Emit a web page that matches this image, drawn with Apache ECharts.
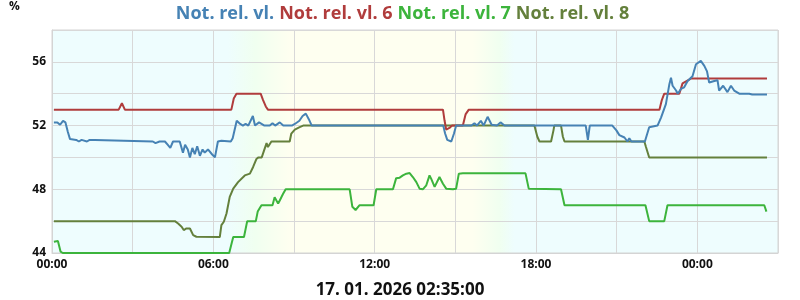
<!DOCTYPE html>
<html>
<head>
<meta charset="utf-8">
<script src="https://cdn.jsdelivr.net/npm/echarts@6/dist/echarts.min.js"></script>
<style>html,body{margin:0;padding:0;background:#fff}#c{width:800px;height:300px}</style>
</head>
<body>
<div id="c"></div>
<script>
// Series names (legend)
const seriesNames = ['Not. rel. vl.', 'Not. rel. vl. 6', 'Not. rel. vl. 7', 'Not. rel. vl. 8'];
const seriesColors = ['#4682b4', '#b03c3c', '#3cb43c', '#64803c'];
// x = hours since 16.01.2026 00:00, y = %
const blueData = [
  [0.07,52.2],[0.2,52.2],[0.3,52.05],[0.41,52.3],[0.5,52.2],[0.59,51.6],[0.67,51.15],[0.9,51.1],[1.0,51.0],
  [1.1,51.1],[1.3,51.0],[1.4,51.1],[1.6,51.1],[1.67,51.0],[3.75,51.0],[3.85,50.9],[4.0,51.0],[4.2,51.0],
  [4.3,50.8],[4.4,50.6],[4.5,51.0],[4.75,51.0],[4.87,50.3],[4.95,50.8],[5.05,50.5],[5.13,50.0],[5.22,50.6],
  [5.31,50.2],[5.4,50.7],[5.5,50.1],[5.6,50.5],[5.68,50.3],[5.8,50.5],[5.95,50.2],[6.06,50.0],[6.17,51.0],
  [6.3,51.05],[6.65,51.0],[6.72,51.2],[6.87,52.3],[7.0,52.1],[7.1,52.0],[7.2,52.1],[7.3,52.0],[7.47,52.6],
  [7.55,52.0],[7.7,52.2],[7.9,52.0],[8.1,52.0],[8.2,52.15],[8.3,52.0],[8.47,52.2],[8.6,52.0],[8.92,52.0],
  [9.03,52.1],[9.2,52.3],[9.32,52.6],[9.44,52.75],[9.55,52.4],[9.66,52.0],[14.55,52.0],[14.62,51.5],
  [14.7,51.1],[14.85,51.0],[14.95,51.5],[15.03,52.0],[15.6,52.0],[15.71,52.15],[15.8,52.0],[15.95,52.3],
  [16.05,52.0],[16.2,52.55],[16.35,52.05],[16.55,52.0],[16.68,52.2],[16.83,52.0],[19.85,52.0],[19.93,51.1],
  [20.0,52.0],[20.84,52.0],[20.99,51.7],[21.1,51.4],[21.29,51.25],[21.4,51.0],[21.47,51.2],[21.55,51.0],
  [22.05,51.0],[22.21,51.9],[22.52,52.0],[22.65,52.5],[22.83,53.35],[22.96,54.6],[23.02,55.0],[23.08,54.5],
  [23.21,54.2],[23.27,54.0],[23.39,54.3],[23.51,54.4],[23.64,54.8],[23.82,55.1],[23.95,55.85],[24.13,56.06],
  [24.26,55.75],[24.36,55.4],[24.44,54.7],[24.51,54.6],[24.63,54.8],[24.75,54.85],[24.81,54.2],[24.96,54.5],
  [25.12,54.1],[25.25,54.5],[25.37,54.2],[25.56,54.0],[25.93,54.0],[25.99,54.1],[26.04,53.95],[26.59,53.95]
];
const redData = [
  [0.07,53.0],[2.48,53.0],[2.6,53.4],[2.71,53.0],[6.67,53.0],[6.76,53.7],[6.86,54.0],[7.76,54.0],[7.85,53.6],
  [7.95,53.2],[8.03,53.0],[14.54,53.0],[14.6,52.3],[14.66,51.75],[14.78,51.85],[14.88,52.0],[15.28,52.0],
  [15.38,52.7],[15.5,53.0],[22.59,53.0],[22.68,53.6],[22.77,54.0],[23.33,54.0],[23.45,54.65],[23.76,54.95],
  [26.59,54.95]
];
const greenData = [
  [0.07,44.7],[0.22,44.75],[0.32,44.08],[0.4,44.0],[6.59,44.0],[6.74,45.0],[7.14,45.0],[7.26,46.0],[7.58,46.0],
  [7.65,46.6],[7.79,47.0],[8.2,47.0],[8.28,47.5],[8.41,47.1],[8.47,47.3],[8.59,47.7],[8.69,48.0],[11.07,48.0],
  [11.17,46.9],[11.29,46.7],[11.44,47.0],[11.96,47.0],[12.06,48.0],[12.68,48.0],[12.8,48.7],[12.93,48.73],
  [13.05,48.87],[13.18,48.98],[13.3,49.02],[13.42,48.77],[13.55,48.45],[13.67,48.04],[13.79,48.0],[13.92,48.25],
  [14.04,48.87],[14.1,48.67],[14.23,48.15],[14.41,48.77],[14.54,48.35],[14.66,48.04],[14.91,48.0],[15.03,48.04],
  [15.13,48.98],[15.28,49.0],[17.61,49.0],[17.73,48.04],[18.93,48.0],[19.06,47.0],[22.07,47.0],[22.21,46.0],
  [22.77,46.0],[22.89,47.0],[26.49,47.0],[26.57,46.6]
];
const oliveData = [
  [0.07,46.0],[4.57,46.0],[4.69,45.85],[4.82,45.65],[4.9,45.44],[5.0,45.54],[5.13,45.54],[5.25,45.12],[5.37,45.02],
  [6.24,45.0],[6.3,45.75],[6.39,45.96],[6.49,46.48],[6.61,47.52],[6.74,48.04],[6.92,48.45],[7.17,48.87],[7.36,48.98],
  [7.48,49.4],[7.6,49.9],[7.68,50.0],[7.8,50.0],[7.91,50.55],[7.98,50.9],[8.03,50.65],[8.16,51.0],[8.84,51.0],
  [8.9,51.5],[9.03,51.75],[9.21,51.9],[9.34,52.0],[17.94,52.0],[18.05,51.3],[18.13,51.0],[18.56,51.0],[18.65,51.7],
  [18.68,52.0],[18.93,52.0],[19.0,51.3],[19.06,51.0],[22.03,51.0],[22.09,50.65],[22.21,50.0],[26.59,50.0]
];
const allData = [blueData, redData, greenData, oliveData];
const xTickHours = [0, 6, 12, 18, 24];
const yTickLabels = [44, 48, 52, 56];
const dateText = '17. 01. 2026 02:35:00';
const xMin = 0, xMax = 27;
// Day/night background transitions (hours): night end, dawn mid, day start, day end, dusk mid, night start
const lightHours = [6.54, 7.55, 8.84, 15.64, 16.64, 17.2];

const nightColor = '#eefdfe', dawnColor = '#f0fff0', dayColor = '#fefff0';
const lightColors = [nightColor, dawnColor, dayColor, dayColor, dawnColor, nightColor];
const chart = echarts.init(document.getElementById('c'), null, {renderer: 'canvas'});
const pad = n => (n < 10 ? '0' : '') + n;
const stops = [{offset: 0, color: nightColor}]
  .concat(lightHours.map((h, i) => ({offset: (h - xMin) / (xMax - xMin), color: lightColors[i]})))
  .concat([{offset: 1, color: nightColor}]);
const series = seriesNames.map((name, i) => ({
  name, type: 'line', data: allData[i], showSymbol: false, symbol: 'none',
  lineStyle: {width: 2, color: seriesColors[i]}, itemStyle: {color: seriesColors[i]},
  z: 10 - i, animation: false
}));
chart.setOption({
  animation: false,
  backgroundColor: '#ffffff',
  legend: {
    top: 0, left: 'center', icon: 'rect', itemWidth: 0, itemHeight: 0, itemGap: 0,
    selectedMode: false,
    textStyle: {fontFamily: 'Open Sans', fontWeight: 'bold', fontSize: 18},
    data: seriesNames.map((n, i) => ({name: n, textStyle: {color: seriesColors[i]}}))
  },
  title: {
    text: dateText, left: 'center', top: 277,
    textStyle: {fontFamily: 'Open Sans', fontWeight: 'bold', fontSize: 17, color: '#111'}
  },
  graphic: [{type: 'text', left: 9, top: 1, style: {text: '%', font: 'bold 12px "Open Sans"', fill: '#111'}}],
  grid: {
    left: 52, right: 22, top: 30, bottom: 47, show: true, borderColor: '#d4d4d4', borderWidth: 1,
    backgroundColor: new echarts.graphic.LinearGradient(0, 0, 1, 0, stops)
  },
  xAxis: {
    type: 'value', min: xMin, max: xMax, interval: 3,
    axisLine: {show: true, lineStyle: {color: '#d4d4d4'}}, axisTick: {show: false},
    splitLine: {show: true, lineStyle: {color: '#d8d8d8', width: 1}},
    axisLabel: {
      margin: 6, color: '#111', fontFamily: 'Open Sans', fontWeight: 'bold', fontSize: 12,
      formatter: v => xTickHours.includes(v) ? pad(v % 24) + ':00' : ''
    }
  },
  yAxis: {
    type: 'value', min: 44, max: 58, interval: 2,
    axisLine: {show: true, lineStyle: {color: '#d4d4d4'}}, axisTick: {show: false},
    splitLine: {show: true, lineStyle: {color: '#d8d8d8', width: 1}},
    axisLabel: {
      margin: 6, color: '#111', fontFamily: 'Open Sans', fontWeight: 'bold', fontSize: 12,
      formatter: v => yTickLabels.includes(v) ? String(v) : ''
    }
  },
  series
});
</script>
</body>
</html>
